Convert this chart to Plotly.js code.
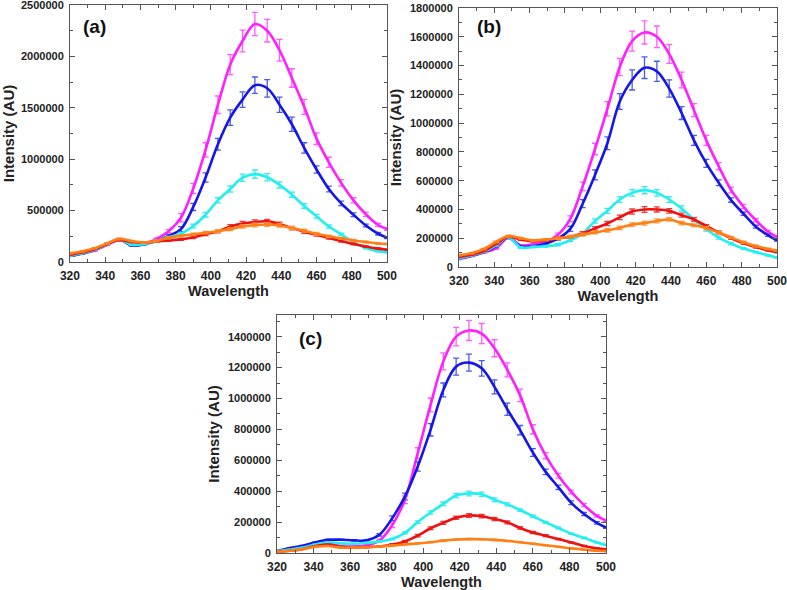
<!DOCTYPE html>
<html>
<head>
<meta charset="utf-8">
<script src="https://cdn.plot.ly/plotly-3.0.1.min.js"></script>
<style>
  html, body { margin: 0; padding: 0; background: #fff; }
  #chart { width: 787px; height: 590px; }
</style>
</head>
<body>
<div id="chart"></div>
<script>
// wavelength grid (nm) shared by every series
const wavelength = [320, 327, 334, 341, 348, 355, 362, 369, 376, 383, 390, 397, 404, 411, 418, 425, 432, 439, 446, 453, 460, 467, 474, 481, 488, 495, 500];

// panel (a)
const aMagenta = [60000, 82000, 112000, 165000, 215000, 165000, 172000, 225000, 300000, 430000, 715000, 1090000, 1530000, 1920000, 2150000, 2315000, 2250000, 2060000, 1790000, 1510000, 1200000, 970000, 770000, 600000, 465000, 360000, 320000];
const aBlue = [58000, 84000, 117000, 172000, 220000, 162000, 172000, 205000, 255000, 320000, 536000, 822000, 1146000, 1405000, 1580000, 1720000, 1690000, 1530000, 1340000, 1110000, 900000, 710000, 570000, 460000, 355000, 275000, 237000];
const aCyan = [62000, 86000, 118000, 172000, 218000, 168000, 175000, 205000, 240000, 275000, 350000, 460000, 600000, 710000, 820000, 855000, 825000, 750000, 655000, 545000, 445000, 345000, 270000, 190000, 135000, 105000, 95000];
const aRed = [70000, 95000, 125000, 175000, 215000, 195000, 190000, 200000, 210000, 220000, 240000, 270000, 300000, 345000, 375000, 390000, 395000, 370000, 330000, 295000, 265000, 235000, 205000, 175000, 150000, 130000, 120000];
const aOrange = [85000, 105000, 135000, 180000, 225000, 205000, 190000, 205000, 235000, 255000, 270000, 285000, 300000, 320000, 345000, 360000, 365000, 355000, 330000, 305000, 275000, 250000, 230000, 210000, 195000, 180000, 175000];
const aMagentaErr = [4000, 4000, 5000, 6000, 8000, 6000, 6000, 8000, 15000, 40000, 50000, 70000, 85000, 97000, 105000, 113000, 110000, 105000, 90000, 73000, 57000, 49000, 32000, 25000, 20000, 15000, 12000];
const aBlueErr = [4000, 4000, 5000, 6000, 8000, 6000, 6000, 8000, 12000, 25000, 35000, 45000, 57000, 75000, 76000, 80000, 85000, 75000, 70000, 50000, 35000, 28000, 22000, 18000, 14000, 12000, 10000];
const aCyanErr = [4000, 4000, 5000, 6000, 8000, 6000, 6000, 8000, 10000, 12000, 18000, 22000, 25000, 30000, 35000, 40000, 35000, 30000, 25000, 22000, 18000, 15000, 12000, 10000, 8000, 6000, 5000];
const aRedErr = [5000, 5000, 5000, 6000, 8000, 6000, 6000, 8000, 10000, 10000, 12000, 14000, 15000, 18000, 20000, 20000, 20000, 18000, 16000, 15000, 13000, 12000, 10000, 9000, 8000, 7000, 6000];
const aOrangeErr = [5000, 5000, 5000, 6000, 8000, 6000, 6000, 8000, 10000, 10000, 12000, 12000, 14000, 15000, 16000, 18000, 18000, 16000, 15000, 14000, 12000, 12000, 10000, 9000, 8000, 7000, 6000];

// panel (b)
const bMagenta = [55000, 75000, 100000, 130000, 204000, 150000, 158000, 174000, 225000, 335000, 560000, 820000, 1100000, 1390000, 1570000, 1630000, 1600000, 1480000, 1300000, 1090000, 880000, 700000, 535000, 420000, 325000, 245000, 210000];
const bBlue = [58000, 78000, 103000, 145000, 204000, 142000, 144000, 162000, 197000, 265000, 440000, 640000, 860000, 1150000, 1300000, 1385000, 1360000, 1240000, 1070000, 880000, 720000, 585000, 465000, 370000, 280000, 220000, 185000];
const bCyan = [60000, 80000, 105000, 150000, 205000, 135000, 139000, 144000, 155000, 186000, 232000, 320000, 390000, 469000, 515000, 534000, 515000, 469000, 406000, 330000, 262000, 204000, 162000, 128000, 104000, 81000, 65000];
const bRed = [70000, 85000, 110000, 160000, 210000, 190000, 180000, 185000, 200000, 210000, 235000, 268000, 302000, 345000, 385000, 400000, 400000, 390000, 360000, 330000, 285000, 240000, 200000, 165000, 138000, 115000, 104000];
const bOrange = [82000, 95000, 125000, 175000, 215000, 200000, 185000, 190000, 200000, 210000, 225000, 240000, 255000, 272000, 295000, 305000, 320000, 330000, 305000, 290000, 270000, 240000, 205000, 172000, 145000, 125000, 115000];
const bMagentaErr = [3000, 3000, 4000, 5000, 6000, 5000, 5000, 6000, 10000, 20000, 30000, 40000, 50000, 60000, 70000, 80000, 75000, 65000, 55000, 45000, 35000, 25000, 20000, 15000, 12000, 10000, 8000];
const bBlueErr = [3000, 3000, 4000, 5000, 6000, 5000, 5000, 6000, 10000, 18000, 28000, 35000, 45000, 55000, 70000, 75000, 70000, 60000, 45000, 35000, 28000, 20000, 15000, 12000, 10000, 8000, 6000];
const bCyanErr = [3000, 3000, 4000, 5000, 6000, 5000, 5000, 6000, 8000, 10000, 12000, 15000, 18000, 20000, 22000, 25000, 22000, 20000, 18000, 15000, 12000, 10000, 8000, 6000, 5000, 5000, 4000];
const bRedErr = [4000, 4000, 4000, 5000, 6000, 5000, 5000, 6000, 8000, 10000, 10000, 12000, 14000, 16000, 18000, 20000, 18000, 16000, 14000, 12000, 10000, 10000, 8000, 7000, 6000, 5000, 5000];
const bOrangeErr = [4000, 4000, 4000, 5000, 6000, 5000, 5000, 6000, 8000, 8000, 10000, 10000, 12000, 12000, 12000, 14000, 14000, 12000, 12000, 10000, 10000, 8000, 8000, 7000, 6000, 5000, 5000];

// panel (c)
const cMagenta = [12000, 22000, 35000, 50000, 62000, 45000, 42000, 50000, 80000, 180000, 345000, 646000, 958000, 1240000, 1400000, 1440000, 1420000, 1325000, 1185000, 1020000, 800000, 630000, 500000, 395000, 310000, 240000, 210000];
const cBlue = [12000, 32000, 47000, 69000, 85000, 86000, 82000, 82000, 118000, 225000, 366000, 560000, 797000, 1055000, 1206000, 1232000, 1195000, 1075000, 930000, 795000, 650000, 525000, 425000, 325000, 252000, 195000, 165000];
const cCyan = [12000, 22000, 35000, 55000, 70000, 62000, 60000, 65000, 75000, 90000, 130000, 200000, 262000, 318000, 372000, 385000, 380000, 345000, 315000, 278000, 238000, 198000, 162000, 125000, 98000, 68000, 52000];
const cRed = [8000, 15000, 25000, 45000, 55000, 40000, 35000, 38000, 42000, 55000, 75000, 112000, 160000, 195000, 228000, 243000, 238000, 220000, 198000, 162000, 132000, 112000, 90000, 68000, 45000, 30000, 24000];
const cOrange = [8000, 15000, 25000, 40000, 45000, 35000, 35000, 38000, 42000, 48000, 55000, 62000, 70000, 80000, 87000, 90000, 89000, 85000, 78000, 70000, 60000, 50000, 40000, 30000, 22000, 15000, 12000];
const cMagentaErr = [2000, 2000, 3000, 3000, 4000, 3000, 3000, 4000, 8000, 15000, 25000, 35000, 45000, 55000, 60000, 65000, 65000, 55000, 45000, 40000, 30000, 20000, 15000, 12000, 10000, 8000, 7000];
const cBlueErr = [2000, 2000, 3000, 3000, 4000, 3000, 3000, 4000, 8000, 15000, 22000, 30000, 40000, 45000, 55000, 55000, 50000, 45000, 40000, 30000, 25000, 18000, 14000, 12000, 10000, 8000, 6000];
const cCyanErr = [2000, 2000, 2000, 3000, 3000, 3000, 3000, 3000, 4000, 5000, 6000, 8000, 10000, 12000, 14000, 15000, 14000, 12000, 10000, 8000, 7000, 6000, 5000, 4000, 4000, 3000, 3000];
const cRedErr = [2000, 2000, 2000, 3000, 3000, 3000, 3000, 3000, 4000, 5000, 6000, 8000, 9000, 10000, 11000, 12000, 11000, 10000, 9000, 8000, 7000, 6000, 5000, 4000, 4000, 3000, 3000];
const cOrangeErr = [2000, 2000, 2000, 2000, 2000, 2000, 2000, 2000, 2000, 3000, 3000, 3000, 3000, 4000, 4000, 4000, 4000, 4000, 3000, 3000, 3000, 3000, 2000, 2000, 2000, 2000, 2000];

const xTicks = [320, 340, 360, 380, 400, 420, 440, 460, 480, 500];

// line colour, error bar colour
const palette = {
  magenta: ["#ff1fff", "#ff5cff"],
  blue: ["#1616e8", "#4a5ce6"],
  cyan: ["#1ff0f0", "#3ee6f0"],
  red: ["#f01010", "#ee3a3a"],
  orange: ["#ff7f14", "#ff9a45"],
};

const FONT = "Liberation Sans, Arial, sans-serif";
const INK = "#222";
const FRAME = "#555";

function series(y, err, color, xa, ya) {
  return {
    x: wavelength,
    y: y,
    xaxis: xa,
    yaxis: ya,
    type: "scatter",
    mode: "lines",
    line: { color: palette[color][0], width: 2.6, shape: "spline", smoothing: 1 },
    error_y: { type: "data", array: err, visible: true, color: palette[color][1], thickness: 1.3, width: 3 },
    hoverinfo: "skip",
    showlegend: false,
  };
}

const data = [
  series(aMagenta, aMagentaErr, "magenta", "x", "y"),
  series(aBlue, aBlueErr, "blue", "x", "y"),
  series(aCyan, aCyanErr, "cyan", "x", "y"),
  series(aRed, aRedErr, "red", "x", "y"),
  series(aOrange, aOrangeErr, "orange", "x", "y"),
  series(bMagenta, bMagentaErr, "magenta", "x2", "y2"),
  series(bBlue, bBlueErr, "blue", "x2", "y2"),
  series(bCyan, bCyanErr, "cyan", "x2", "y2"),
  series(bRed, bRedErr, "red", "x2", "y2"),
  series(bOrange, bOrangeErr, "orange", "x2", "y2"),
  series(cMagenta, cMagentaErr, "magenta", "x3", "y3"),
  series(cBlue, cBlueErr, "blue", "x3", "y3"),
  series(cCyan, cCyanErr, "cyan", "x3", "y3"),
  series(cRed, cRedErr, "red", "x3", "y3"),
  series(cOrange, cOrangeErr, "orange", "x3", "y3"),
];

function xAxis(domain, anchor) {
  return {
    domain: domain,
    anchor: anchor,
    range: [320, 500],
    tickvals: xTicks,
    ticktext: xTicks.map(String),
    ticks: "inside",
    ticklen: 5,
    tickcolor: FRAME,
    ticklabelstandoff: 3,
    ticklabeloverflow: "allow",
    minor: { dtick: 10, tick0: 320, ticks: "inside", ticklen: 3, tickcolor: FRAME },
    showline: true,
    linecolor: FRAME,
    linewidth: 1,
    mirror: "ticks",
    showgrid: false,
    zeroline: false,
    tickfont: { family: FONT, size: 12, weight: "bold", color: INK },
    title: { text: "Wavelength", font: { family: FONT, size: 14.5, weight: "bold", color: INK }, standoff: 2 },
  };
}

function yAxis(domain, anchor, top, step) {
  return {
    domain: domain,
    anchor: anchor,
    range: [0, top],
    tick0: 0,
    dtick: step,
    tickformat: "d",
    ticks: "inside",
    ticklen: 5,
    tickcolor: FRAME,
    ticklabelstandoff: 3,
    ticklabeloverflow: "allow",
    minor: { dtick: step / 2, ticks: "inside", ticklen: 3, tickcolor: FRAME },
    showline: true,
    linecolor: FRAME,
    linewidth: 1,
    mirror: "ticks",
    showgrid: false,
    zeroline: false,
    tickfont: { family: FONT, size: 11, weight: "bold", color: INK },
    title: { text: "Intensity (AU)", font: { family: FONT, size: 15, weight: "bold", color: INK }, standoff: 4 },
  };
}

function panelLabel(text, xref, yref, x, y) {
  return {
    text: text,
    xref: xref + " domain",
    yref: yref + " domain",
    x: x,
    y: y,
    xanchor: "left",
    yanchor: "middle",
    showarrow: false,
    font: { family: FONT, size: 19, weight: "bold", color: "#111" },
  };
}

const layout = {
  width: 787,
  height: 590,
  margin: { l: 0, r: 0, t: 0, b: 0 },
  paper_bgcolor: "#fff",
  plot_bgcolor: "#fff",
  showlegend: false,
  xaxis: xAxis([0.0889, 0.4917], "y"),
  yaxis: yAxis([0.5559, 0.9915], "x", 2500000, 500000),
  xaxis2: xAxis([0.5832, 0.9873], "y2"),
  yaxis2: yAxis([0.5475, 0.9864], "x2", 1800000, 200000),
  xaxis3: xAxis([0.352, 0.77], "y3"),
  yaxis3: yAxis([0.0627, 0.4661], "x3", 1540000, 200000),
  annotations: [
    panelLabel("(a)", "x", "y", 0.035, 0.915),
    panelLabel("(b)", "x2", "y2", 0.05, 0.927),
    panelLabel("(c)", "x3", "y3", 0.06, 0.903),
  ],
};

Plotly.newPlot("chart", data, layout, { displayModeBar: false, staticPlot: true });
</script>
</body>
</html>
